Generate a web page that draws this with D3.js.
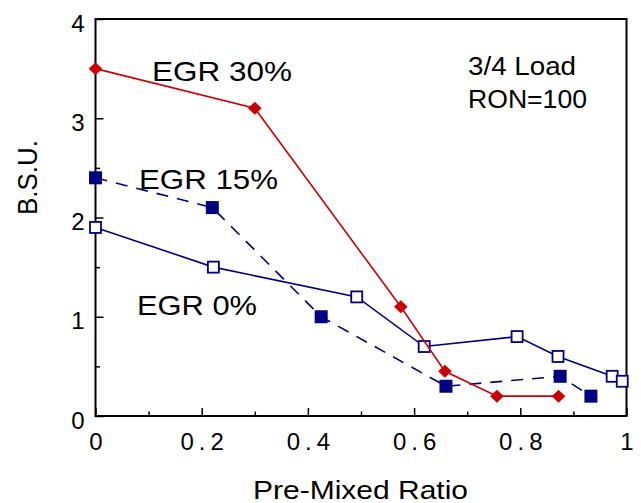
<!DOCTYPE html>
<html>
<head>
<meta charset="utf-8">
<script src="https://cdn.jsdelivr.net/npm/d3@7"></script>
<style>
  html, body { margin: 0; padding: 0; background: #fff; }
  svg { display: block; font-family: "Liberation Sans", Arial, Helvetica, sans-serif; }
</style>
</head>
<body>
<svg id="chart" width="641" height="503"></svg>
<script>
// Pre-mixed ratio vs. B.S.U. at 3/4 load, RON=100, for three EGR rates
const egr30X = [0, 0.30, 0.575, 0.658, 0.756, 0.872];
const egr30Y = [3.5, 3.1, 1.1, 0.45, 0.2, 0.2];

const egr15X = [0, 0.22, 0.425, 0.66, 0.875, 0.933];
const egr15Y = [2.4, 2.1, 1.0, 0.3, 0.4, 0.2];

const egr0X = [0, 0.222, 0.492, 0.619, 0.794, 0.871, 0.973, 0.992];
const egr0Y = [1.9, 1.5, 1.2, 0.7, 0.8, 0.6, 0.4, 0.35];

const xTickValues = [0, 0.2, 0.4, 0.6, 0.8, 1];
const xTickLabels = ["0", "0.2", "0.4", "0.6", "0.8", "1"];
const xMinorTicks = [0.1, 0.3, 0.5, 0.7, 0.9];
const yTickValues = [0, 1, 2, 3, 4];
const yTickLabels = ["0", "1", "2", "3", "4"];
const yMinorTicks = [0.5, 1.5, 2.5, 3.5];

const seriesLabels = ["EGR 30%", "EGR 15%", "EGR 0%"];
const noteLines = ["3/4 Load", "RON=100"];
const xTitle = "Pre-Mixed Ratio";
const yTitle = "B.S.U.";

const RED = "#cc0000";
const NAVY = "#000080";

const svg = d3.select("#chart");
const x = d3.scaleLinear().domain([0, 1]).range([95.5, 626.5]);
const y = d3.scaleLinear().domain([0, 4]).range([416, 19]);

// minor ticks (inward)
svg.append("g").attr("transform", "translate(0,416)")
  .call(d3.axisBottom(x).tickValues(xMinorTicks).tickSize(-4.5).tickSizeOuter(0).tickFormat(""))
  .call(g => g.select(".domain").remove())
  .call(g => g.selectAll("line").attr("stroke", "#000").attr("stroke-width", 1.5));
svg.append("g").attr("transform", "translate(95.5,0)")
  .call(d3.axisLeft(y).tickValues(yMinorTicks).tickSize(-4.5).tickSizeOuter(0).tickFormat(""))
  .call(g => g.select(".domain").remove())
  .call(g => g.selectAll("line").attr("stroke", "#000").attr("stroke-width", 1.5));

// major ticks with labels
svg.append("g").attr("transform", "translate(0,416)")
  .call(d3.axisBottom(x).tickValues(xTickValues).tickSize(-8).tickSizeOuter(0).tickPadding(17)
    .tickFormat((d, i) => xTickLabels[i]))
  .call(g => g.select(".domain").remove())
  .call(g => g.selectAll("line").attr("stroke", "#000").attr("stroke-width", 1.5))
  .call(g => g.selectAll("text")
    .attr("fill", "#000")
    .style("font-size", "24px")
    .style("font-family", "'Liberation Sans', Arial, sans-serif")
    .style("letter-spacing", "5px")
    .attr("dx", "2.5"));

svg.append("g").attr("transform", "translate(95.5,0)")
  .call(d3.axisLeft(y).tickValues(yTickValues).tickSize(-8).tickSizeOuter(0).tickPadding(11)
    .tickFormat((d, i) => yTickLabels[i]))
  .call(g => g.select(".domain").remove())
  .call(g => g.selectAll("line").attr("stroke", "#000").attr("stroke-width", 1.5))
  .call(g => g.selectAll("text")
    .attr("fill", "#000")
    .attr("dy", "0.5em")
    .style("font-size", "24px")
    .style("font-family", "'Liberation Sans', Arial, sans-serif"));

// plot frame
svg.append("rect")
  .attr("x", x(0)).attr("y", y(4))
  .attr("width", x(1) - x(0)).attr("height", y(0) - y(4))
  .attr("fill", "none").attr("stroke", "#000").attr("stroke-width", 2);

const line = d3.line().x(d => x(d[0])).y(d => y(d[1]));
const pts = (xs, ys) => xs.map((v, i) => [v, ys[i]]);

// EGR 15%: dashed, filled squares
const d15 = pts(egr15X, egr15Y);
svg.append("path").attr("d", line(d15))
  .attr("fill", "none").attr("stroke", NAVY).attr("stroke-width", 1.6)
  .attr("stroke-dasharray", "12,9");
svg.append("g").selectAll("rect").data(d15).join("rect")
  .attr("x", d => x(d[0]) - 6.5).attr("y", d => y(d[1]) - 6.5)
  .attr("width", 13).attr("height", 13).attr("fill", NAVY);

// EGR 0%: solid, open squares
const d0 = pts(egr0X, egr0Y);
svg.append("path").attr("d", line(d0))
  .attr("fill", "none").attr("stroke", NAVY).attr("stroke-width", 1.6);
svg.append("g").selectAll("rect").data(d0).join("rect")
  .attr("x", d => x(d[0]) - 5.5).attr("y", d => y(d[1]) - 5.5)
  .attr("width", 11).attr("height", 11)
  .attr("fill", "#fff").attr("stroke", NAVY).attr("stroke-width", 1.8);

// EGR 30%: solid red, diamonds
const d30 = pts(egr30X, egr30Y);
svg.append("path").attr("d", line(d30))
  .attr("fill", "none").attr("stroke", RED).attr("stroke-width", 1.6);
svg.append("g").selectAll("path").data(d30).join("path")
  .attr("d", "M0,-6.5L6.8,0L0,6.5L-6.8,0Z")
  .attr("transform", d => `translate(${x(d[0])},${y(d[1])})`)
  .attr("fill", RED);

// series annotations
const ann = [
  { t: seriesLabels[0], x: 152, y: 81, len: 140 },
  { t: seriesLabels[1], x: 139, y: 189, len: 139 },
  { t: seriesLabels[2], x: 137, y: 315, len: 120 }
];
svg.append("g").selectAll("text").data(ann).join("text")
  .attr("x", d => d.x).attr("y", d => d.y)
  .attr("textLength", d => d.len).attr("lengthAdjust", "spacingAndGlyphs")
  .style("font-size", "28px").attr("fill", "#000")
  .text(d => d.t);

// condition note
svg.append("g").selectAll("text").data([
  { t: noteLines[0], y: 75, len: 108 },
  { t: noteLines[1], y: 108, len: 119 }
]).join("text")
  .attr("x", 468).attr("y", d => d.y)
  .attr("textLength", d => d.len).attr("lengthAdjust", "spacingAndGlyphs")
  .style("font-size", "25px").attr("fill", "#000")
  .text(d => d.t);

// axis titles
svg.append("text")
  .attr("x", 253).attr("y", 498.5)
  .attr("textLength", 215).attr("lengthAdjust", "spacingAndGlyphs")
  .style("font-size", "26.5px").attr("fill", "#000")
  .text(xTitle);

svg.append("text")
  .attr("transform", "translate(37,215) rotate(-90)")
  .attr("textLength", 75).attr("lengthAdjust", "spacingAndGlyphs")
  .style("font-size", "27px").attr("fill", "#000")
  .text(yTitle);
</script>
</body>
</html>
